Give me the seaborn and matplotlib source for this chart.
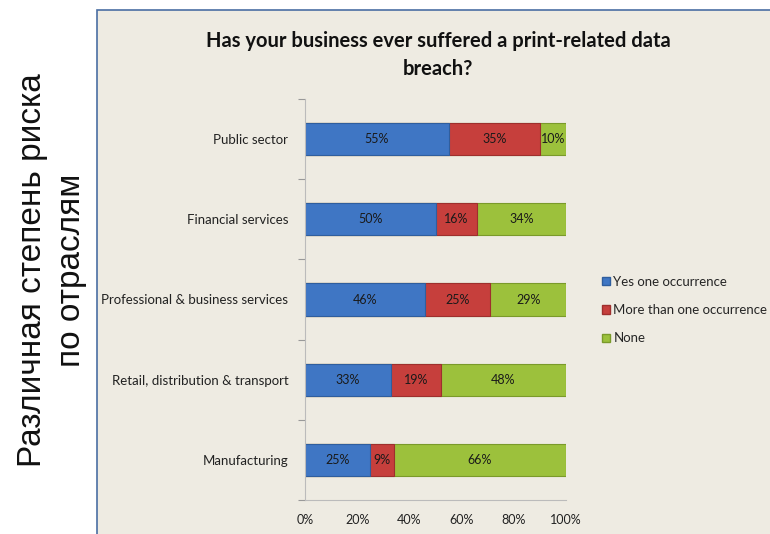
import matplotlib
matplotlib.use("Agg")
import matplotlib.pyplot as plt
from matplotlib.patches import Rectangle, Patch
import seaborn as sns
import pandas as pd

categories = ["Public sector", "Financial services", "Professional & business services",
              "Retail, distribution & transport", "Manufacturing"]
yes_one = [55, 50, 46, 33, 25]
more_than_one = [35, 16, 25, 19, 9]
none_vals = [10, 34, 29, 48, 66]
series_names = ["Yes one occurrence", "More than one occurrence", "None"]
x_ticks = [0, 20, 40, 60, 80, 100]
x_tick_labels = ["0%", "20%", "40%", "60%", "80%", "100%"]
title = "Has your business ever suffered a print-related data\nbreach?"
side_text = "Различная степень риска\nпо отраслям"

colors = ["#3f76c4", "#c63f3c", "#9cc13c"]
edge_colors = ["#2f5e9e", "#9e2f2d", "#7a9a2a"]

sns.set_theme(style="white")
plt.rcParams['font.family'] = ['Lato', 'DejaVu Sans']

df = pd.DataFrame({"cat": categories, "yes": yes_one, "more": more_than_one, "none": none_vals})
df["c1"] = df["yes"]
df["c2"] = df["yes"] + df["more"]
df["c3"] = df["yes"] + df["more"] + df["none"]

fig = plt.figure(figsize=(7.70, 5.34), dpi=100)
fig.patch.set_facecolor("white")

panel = Rectangle((97 / 770, -0.1), 1.0, 1.1 - 10 / 534, transform=fig.transFigure,
                  facecolor="#eeebe2", edgecolor="#4a6ea3", linewidth=1.2, zorder=-10)
fig.patches.append(panel)

ax = fig.add_axes([305 / 770, 1 - 500 / 534, (566 - 305) / 770, (500 - 99) / 534])
ax.set_facecolor("none")
ax.set_zorder(2)

for col, c, ec in [("c3", colors[2], edge_colors[2]), ("c2", colors[1], edge_colors[1]),
                   ("c1", colors[0], edge_colors[0])]:
    sns.barplot(data=df, y="cat", x=col, orient="h", color=c, width=0.4,
                edgecolor=ec, linewidth=0.8, saturation=1, ax=ax)

for i in range(len(categories)):
    starts = [0, yes_one[i], yes_one[i] + more_than_one[i]]
    vals = [yes_one[i], more_than_one[i], none_vals[i]]
    for s, v in zip(starts, vals):
        ax.text(s + v / 2, i, f"{v}%", ha="center", va="center", fontsize=9, color="#1a1a1a")

ax.set_xlim(0, 100)
ax.set_ylim(len(categories) - 0.5, -0.5)
ax.set_xticks(x_ticks)
ax.set_xticklabels(x_tick_labels, fontsize=9, color="#222222")
ax.set_yticks(range(len(categories)))
ax.set_yticklabels(categories, fontsize=9.5, color="#222222")
ax.set_xlabel("")
ax.set_ylabel("")
ax.tick_params(axis="y", length=0, pad=12)
ax.tick_params(axis="x", length=0, pad=10)

ax.set_yticks([k - 0.5 for k in range(len(categories) + 1)], minor=True)
ax.tick_params(axis="y", which="minor", length=5, color="#999999", width=0.8, direction="out", left=True)
ax.set_xticks(x_ticks, minor=True)
ax.tick_params(axis="x", which="minor", length=4, color="#999999", width=0.8, direction="out", bottom=True)

for side in ["top", "right"]:
    ax.spines[side].set_visible(False)
for side in ["left", "bottom"]:
    ax.spines[side].set_color("#bbbbbb")
    ax.spines[side].set_linewidth(0.8)

fig.text(438 / 770, 1 - 55 / 534, title, ha="center", va="center", fontsize=14.5,
         fontweight="bold", color="#111111", linespacing=1.45)

fig.text(52 / 770, 1 - 270 / 534, side_text, rotation=90, ha="center", va="center",
         fontsize=24, family=["Liberation Sans", "DejaVu Sans"], color="#111111",
         linespacing=1.32, multialignment="center")

handles = [Patch(facecolor=colors[k], edgecolor=edge_colors[k]) for k in range(3)]
leg = fig.legend(handles, series_names, loc="center left", bbox_to_anchor=(597 / 770, 1 - 310 / 534),
                 frameon=False, fontsize=9.5, handlelength=0.6, handleheight=0.6,
                 handletextpad=0.25, labelspacing=1.25, borderaxespad=0)

fig.savefig("out.png", dpi=100)
